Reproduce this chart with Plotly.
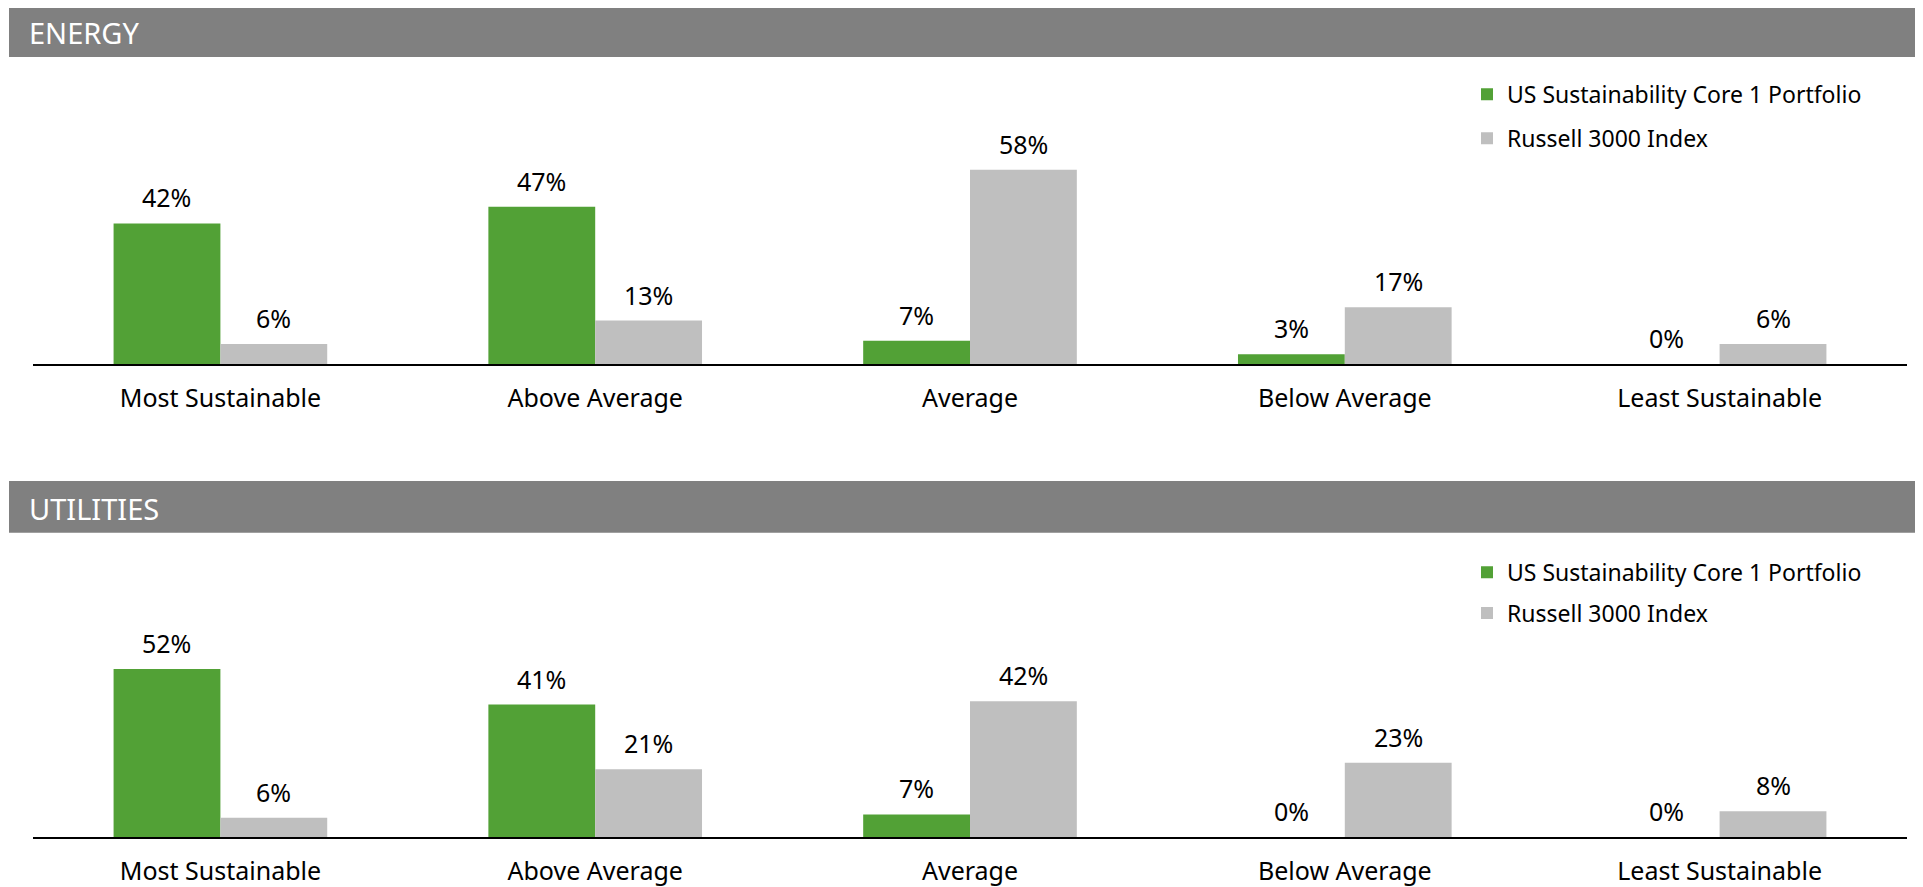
import plotly.graph_objects as go

# ---- data ----
categories = ["Most Sustainable", "Above Average", "Average", "Below Average", "Least Sustainable"]
series_names = ["US Sustainability Core 1 Portfolio", "Russell 3000 Index"]
energy_portfolio = [42, 47, 7, 3, 0]
energy_index = [6, 13, 58, 17, 6]
utilities_portfolio = [52, 41, 7, 0, 0]
utilities_index = [6, 21, 42, 23, 8]
panel_titles = ["ENERGY", "UTILITIES"]

GREEN = "#52A136"
GRAY = "#BFBFBF"
HEADER = "#808080"
FONT = "Noto Sans"

OFF = 8  # page body margin
W, H = 1923 - OFF, 887 - OFF


def px_(p):
    return (p - OFF) / W


def py(p):
    return 1 - (p - OFF) / H


fig = go.Figure()

panels = [
    dict(port=energy_portfolio, idx=energy_index, xa="x", ya="y", legend="legend"),
    dict(port=utilities_portfolio, idx=utilities_index, xa="x2", ya="y2", legend="legend2"),
]

for p in panels:
    fig.add_trace(go.Bar(x=categories, y=p["port"], name=series_names[0], marker=dict(color=GREEN, line=dict(width=0)),
                         xaxis=p["xa"], yaxis=p["ya"], legend=p["legend"], legendgroup="a" + p["legend"],
                         hoverinfo="skip"))
    fig.add_trace(go.Bar(x=categories, y=p["idx"], name=series_names[1], marker=dict(color=GRAY, line=dict(width=0)),
                         xaxis=p["xa"], yaxis=p["ya"], legend=p["legend"], legendgroup="b" + p["legend"],
                         hoverinfo="skip"))

annotations = []
offset = 53.5
for p in panels:
    for vals, sh in ((p["port"], -offset), (p["idx"], offset)):
        for c, v in zip(categories, vals):
            annotations.append(dict(x=c, y=v, xref=p["xa"], yref=p["ya"], text=f"{v}%", showarrow=False,
                                    xshift=sh, yanchor="bottom", yshift=7,
                                    font=dict(family=FONT, size=25, color="#000000")))

# headers
header_rows = [(5, 57), (482, 534)]
shapes = []
for (t, b), title in zip(header_rows, panel_titles):
    shapes.append(dict(type="rect", xref="paper", yref="paper", x0=px_(9), x1=px_(1920), y0=py(b), y1=py(t),
                       fillcolor=HEADER, line=dict(width=0), layer="below"))
    annotations.append(dict(x=px_(27), y=py((t + b) / 2 + 2), xref="paper", yref="paper", text=title,
                            showarrow=False, xanchor="left", yanchor="middle",
                            font=dict(family=FONT, size=29, color="#FFFFFF")))

xdom = [px_(33), px_(1907)]
axis_common = dict(showgrid=False, zeroline=False)
tickfont = dict(family=FONT, size=25, color="#000000")

fig.update_layout(
    width=W, height=H, margin=dict(l=0, r=0, t=0, b=0),
    paper_bgcolor="white", plot_bgcolor="white",
    barmode="group", bargap=0.43, bargroupgap=0,
    font=dict(family=FONT, size=24, color="#000000"),
    shapes=shapes, annotations=annotations,
    xaxis=dict(domain=xdom, anchor="y", showline=True, linecolor="#000000", linewidth=1.5,
               ticks="", ticklabelstandoff=11, tickfont=tickfont, **axis_common),
    yaxis=dict(domain=[py(365), py(365 - 60 * 3.36)], range=[0, 60], anchor="x", visible=False, **axis_common),
    xaxis2=dict(domain=xdom, anchor="y2", showline=True, linecolor="#000000", linewidth=1.5,
                ticks="", ticklabelstandoff=11, tickfont=tickfont, **axis_common),
    yaxis2=dict(domain=[py(839), py(839 - 60 * 3.24)], range=[0, 60], anchor="x2", visible=False, **axis_common),
    legend=dict(x=px_(1507 - 40), y=py(73), xanchor="left", yanchor="top", traceorder="grouped",
                tracegroupgap=11, font=dict(family=FONT, size=23, color="#000000"), bgcolor="rgba(0,0,0,0)"),
    legend2=dict(x=px_(1507 - 40), y=py(552), xanchor="left", yanchor="top", traceorder="grouped",
                 tracegroupgap=8, font=dict(family=FONT, size=23, color="#000000"), bgcolor="rgba(0,0,0,0)"),
    showlegend=True,
)

fig.write_html("out.html")
